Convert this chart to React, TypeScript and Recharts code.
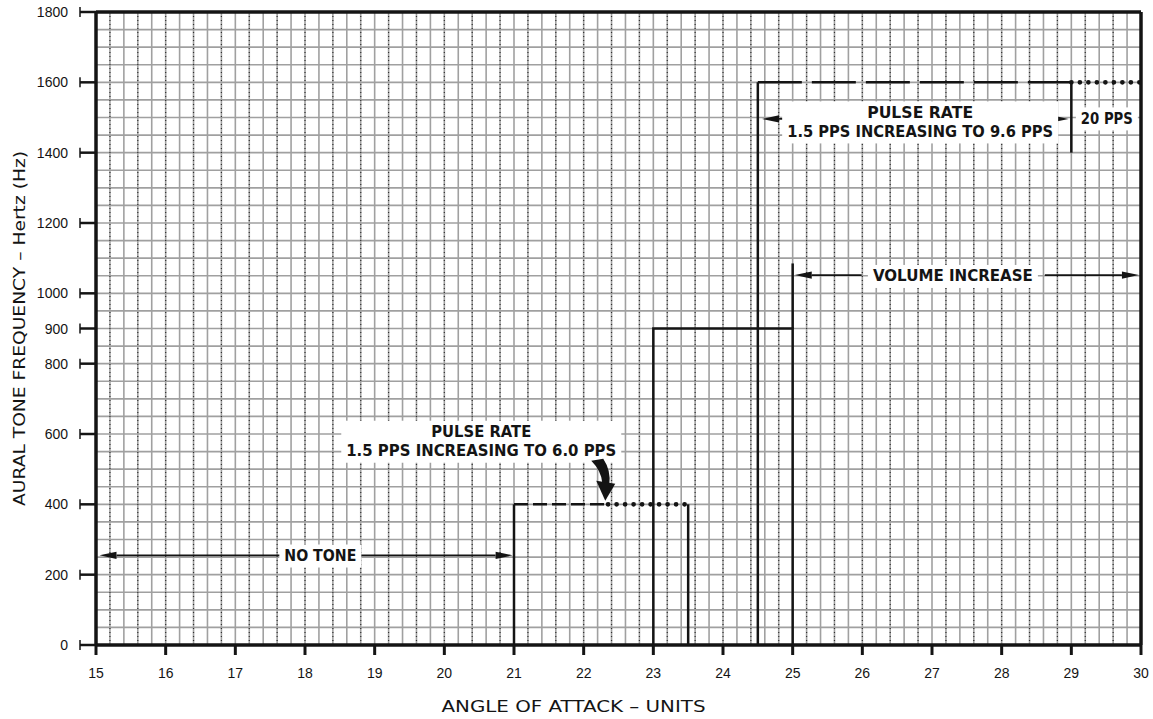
import React from 'react';
import { LineChart, Line, XAxis, YAxis, CartesianGrid, ReferenceLine, ReferenceDot } from 'recharts';

// ---- axis ticks ----
const xTicks = [15, 16, 17, 18, 19, 20, 21, 22, 23, 24, 25, 26, 27, 28, 29, 30];
const yTicks = [0, 200, 400, 600, 800, 900, 1000, 1200, 1400, 1600, 1800];

// ---- graph-paper grid values ----
const gridX = Array.from({ length: 76 }, (_, i) => +(15 + i * 0.2).toFixed(1));
const gridXDotted = gridX.filter((_, i) => i % 2 === 1);
const gridY = Array.from({ length: 37 }, (_, i) => i * 50);

// ---- step series (angle of attack, frequency Hz) ----
const rise400 = [{ x: 21, y: 0 }, { x: 21, y: 400 }];
const dash400 = [{ x: 21, y: 400 }, { x: 22.35, y: 400 }];
const dots400 = [{ x: 22.35, y: 400 }, { x: 23.5, y: 400 }];
const fall400 = [{ x: 23.5, y: 400 }, { x: 23.5, y: 0 }];
const step900 = [{ x: 23, y: 0 }, { x: 23, y: 900 }, { x: 25, y: 900 }, { x: 25, y: 0 }];
const edge25 = [{ x: 25, y: 900 }, { x: 25, y: 1085 }];
const rise1600 = [{ x: 24.5, y: 0 }, { x: 24.5, y: 1600 }];
const dash1600 = [{ x: 24.5, y: 1600 }, { x: 29, y: 1600 }];
const dots1600 = [{ x: 29, y: 1600 }, { x: 30, y: 1600 }];
const edge29 = [{ x: 29, y: 1600 }, { x: 29, y: 1400 }];

// ---- annotation texts (anchor in data units) ----
const noTone = { x: 18.22, y: 253, lines: ['NO TONE'], widths: [72] };
const pulseLow = { x: 20.53, y: 578, lines: ['PULSE RATE', '1.5 PPS INCREASING TO 6.0 PPS'], widths: [100, 270] };
const pulseHigh = { x: 26.83, y: 1486, lines: ['PULSE RATE', '1.5 PPS INCREASING TO 9.6 PPS'], widths: [106, 266] };
const pps20 = { x: 29.51, y: 1496, lines: ['20 PPS'], widths: [52] };
const volume = { x: 27.3, y: 1048, lines: ['VOLUME INCREASE'], widths: [160] };

// ---- arrows [from, to] in data units ----
const arrows = [
  [{ x: 17.68, y: 255 }, { x: 15.05, y: 255 }],
  [{ x: 18.78, y: 255 }, { x: 20.98, y: 255 }],
  [{ x: 25.41, y: 1496 }, { x: 24.56, y: 1496 }],
  [{ x: 28.09, y: 1496 }, { x: 28.96, y: 1496 }],
  [{ x: 25.99, y: 1052 }, { x: 25.03, y: 1052 }],
  [{ x: 28.62, y: 1052 }, { x: 29.97, y: 1052 }],
];
const curvedArrowTip = { x: 22.31, y: 410 };

const FONT = '"DejaVu Sans", "Liberation Sans", sans-serif';
const INK = '#141414';

const arrowShape = (props: any) => {
  const { x1, y1, x2, y2 } = props;
  const ang = Math.atan2(y2 - y1, x2 - x1);
  const L = 17, W = 3.6;
  const bx = x2 - L * Math.cos(ang), by = y2 - L * Math.sin(ang);
  const px = -Math.sin(ang) * W, py = Math.cos(ang) * W;
  return (
    <g>
      <line x1={x1} y1={y1} x2={bx} y2={by} stroke={INK} strokeWidth={1.8} />
      <polygon points={`${x2},${y2} ${bx + px},${by + py} ${bx - px},${by - py}`} fill={INK} />
    </g>
  );
};

const makeLabel = (lines: string[], widths: number[]) => (props: any) => {
  const { cx, cy } = props;
  const lh = 19;
  const maxW = Math.max(...widths);
  const h = lines.length * lh + 4;
  return (
    <g>
      <rect x={cx - maxW / 2 - 5} y={cy - h / 2} width={maxW + 10} height={h} fill="#ffffff" />
      {lines.map((t, i) => (
        <text
          key={i}
          x={cx}
          y={cy + (i - (lines.length - 1) / 2) * lh}
          textAnchor="middle"
          dominantBaseline="central"
          fontFamily={FONT}
          fontWeight="bold"
          fontSize={15}
          fill={INK}
          textLength={widths[i]}
          lengthAdjust="spacingAndGlyphs"
        >
          {t}
        </text>
      ))}
    </g>
  );
};

const curvedArrowShape = (props: any) => {
  const { cx, cy } = props;
  return (
    <g fill={INK}>
      <path d={`M ${cx - 14} ${cy - 40} L ${cx - 2} ${cy - 42} Q ${cx + 6} ${cy - 30} ${cx + 4} ${cy - 16} L ${cx - 3} ${cy - 18} Q ${cx - 4} ${cy - 30} ${cx - 14} ${cy - 40} Z`} />
      <polygon points={`${cx - 9},${cy - 20} ${cx + 10},${cy - 17} ${cx},${cy}`} />
    </g>
  );
};

const YTick = (props: any) => {
  const { x, y, payload } = props;
  return (
    <g>
      <line x1={x + 10} y1={y - 5} x2={x + 10} y2={y + 5} stroke={INK} strokeWidth={1.5} />
      <text x={x - 2} y={y} textAnchor="end" dominantBaseline="central" fontFamily='"Liberation Sans", sans-serif' fontSize={14} fill={INK}>
        {payload.value}
      </text>
    </g>
  );
};

const XTick = (props: any) => {
  const { x, y, payload } = props;
  return (
    <text x={x} y={y + 21} textAnchor="middle" fontFamily='"Liberation Sans", sans-serif' fontSize={14} fill={INK}>
      {payload.value}
    </text>
  );
};

const dotted = { stroke: INK, strokeWidth: 4.6, strokeDasharray: '0.1 8.4', strokeLinecap: 'round' as const };

export default function App() {
  return (
    <div style={{ width: 1153, height: 719, background: '#fff' }}>
      <style>{'body{margin:0;background:#fff}'}</style>
      <LineChart width={1153} height={719} margin={{ top: 12, right: 12, bottom: 0, left: 0 }}>
        <CartesianGrid verticalValues={gridX} horizontalValues={gridY} stroke="#a0a0a0" strokeWidth={1.6} />
        <CartesianGrid verticalValues={gridXDotted} horizontal={false} stroke="#333333" strokeWidth={1.2} strokeDasharray="1 3" />
        <XAxis
          dataKey="x"
          type="number"
          domain={[15, 30]}
          ticks={xTicks}
          interval={0}
          allowDataOverflow
          height={74}
          tickSize={10}
          tick={<XTick />}
          axisLine={{ stroke: INK, strokeWidth: 3.5 }}
          tickLine={{ stroke: INK, strokeWidth: 3 }}
          label={{
            content: (p: any) => {
              const vb = p.viewBox;
              return (
                <text x={vb.x + vb.width / 2 - 45} y={vb.y + 67} textAnchor="middle" fontFamily={FONT} fontSize={16.5} fill={INK} textLength={264} lengthAdjust="spacingAndGlyphs">
                  ANGLE OF ATTACK – UNITS
                </text>
              );
            },
          }}
        />
        <YAxis
          type="number"
          domain={[0, 1800]}
          ticks={yTicks}
          interval={0}
          allowDataOverflow
          width={96}
          tickSize={16}
          tickMargin={10}
          tick={<YTick />}
          axisLine={{ stroke: INK, strokeWidth: 3.5 }}
          tickLine={{ stroke: INK, strokeWidth: 2.5 }}
          label={{
            content: (p: any) => {
              const vb = p.viewBox;
              const cx = vb.x + 19;
              const cy = vb.y + vb.height / 2;
              return (
                <text x={cx} y={cy} transform={`rotate(-90 ${cx} ${cy})`} textAnchor="middle" dominantBaseline="central" fontFamily={FONT} fontSize={16} fill={INK} textLength={355} lengthAdjust="spacingAndGlyphs">
                  AURAL TONE FREQUENCY – Hertz (Hz)
                </text>
              );
            },
          }}
        />
        <ReferenceLine y={1800} stroke={INK} strokeWidth={3.5} />
        <ReferenceLine x={30} stroke={INK} strokeWidth={3.5} />

        <Line data={rise400} dataKey="y" stroke={INK} strokeWidth={2.5} dot={false} isAnimationActive={false} />
        <Line data={dash400} dataKey="y" stroke={INK} strokeWidth={2.5} strokeDasharray="14 5" dot={false} isAnimationActive={false} />
        <Line data={dots400} dataKey="y" {...dotted} dot={false} isAnimationActive={false} />
        <Line data={fall400} dataKey="y" stroke={INK} strokeWidth={2.5} dot={false} isAnimationActive={false} />
        <Line data={step900} dataKey="y" stroke={INK} strokeWidth={2.5} dot={false} isAnimationActive={false} />
        <Line data={edge25} dataKey="y" stroke={INK} strokeWidth={2.5} dot={false} isAnimationActive={false} />
        <Line data={rise1600} dataKey="y" stroke={INK} strokeWidth={2.5} dot={false} isAnimationActive={false} />
        <Line data={dash1600} dataKey="y" stroke={INK} strokeWidth={2.5} strokeDasharray="44 10" dot={false} isAnimationActive={false} />
        <Line data={dots1600} dataKey="y" {...dotted} dot={false} isAnimationActive={false} />
        <Line data={edge29} dataKey="y" stroke={INK} strokeWidth={2.5} dot={false} isAnimationActive={false} />

        {arrows.map((seg, i) => (
          <ReferenceLine key={`a${i}`} segment={seg} shape={arrowShape} ifOverflow="visible" />
        ))}
        {[noTone, pulseLow, pulseHigh, pps20, volume].map((a, i) => (
          <ReferenceDot key={`t${i}`} x={a.x} y={a.y} r={0} ifOverflow="visible" shape={makeLabel(a.lines, a.widths)} />
        ))}
        <ReferenceDot x={curvedArrowTip.x} y={curvedArrowTip.y} r={0} ifOverflow="visible" shape={curvedArrowShape} />
      </LineChart>
    </div>
  );
}
